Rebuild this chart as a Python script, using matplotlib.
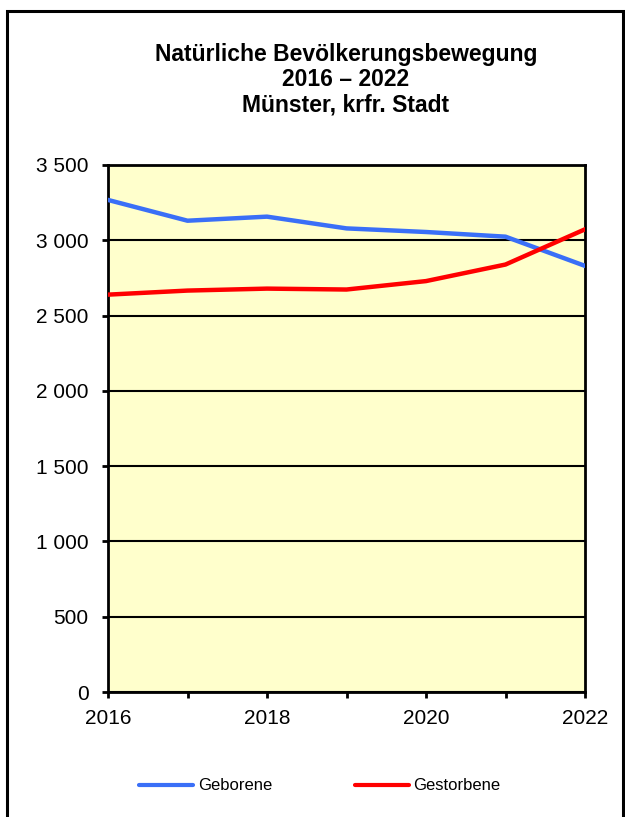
import matplotlib.pyplot as plt
from matplotlib.lines import Line2D
from matplotlib.patches import Rectangle
from matplotlib.ticker import FuncFormatter, MultipleLocator

plt.rcParams["font.family"] = ["Liberation Sans", "DejaVu Sans"]

YEARS = [2016, 2017, 2018, 2019, 2020, 2021, 2022]
GEBORENE = [3268, 3130, 3157, 3079, 3055, 3024, 2830]
GESTORBENE = [2639, 2666, 2679, 2673, 2729, 2839, 3073]
TITLE = "Natürliche Bevölkerungsbewegung\n2016 – 2022\nMünster, krfr. Stadt"

BLUE = "#3a6ff7"
RED = "#ff0000"

fig = plt.figure(figsize=(6.25, 8.17), dpi=100)
fig.patch.set_facecolor("white")

# outer frame (bottom edge runs off the picture)
fig.patches.append(Rectangle((7 / 625, -0.05), 616 / 625, 1 - 11 / 817 + 0.05,
                             transform=fig.transFigure, fill=False,
                             edgecolor="black", linewidth=2.2, clip_on=False))

ax = fig.add_axes([108 / 625, 1 - 692 / 817, 477 / 625, 527 / 817])
ax.set_facecolor("#ffffcc")

ax.plot(YEARS, GEBORENE, color=BLUE, linewidth=3.2, label="Geborene", zorder=3)
ax.plot(YEARS, GESTORBENE, color=RED, linewidth=3.2, label="Gestorbene", zorder=3)

ax.set_xlim(YEARS[0], YEARS[-1])
ax.set_ylim(0, 3500)
ax.xaxis.set_major_locator(MultipleLocator(2))
ax.xaxis.set_minor_locator(MultipleLocator(1))
ax.yaxis.set_major_locator(MultipleLocator(500))
ax.yaxis.set_major_formatter(FuncFormatter(lambda v, _: f"{int(v):,}".replace(",", " ")))
ax.grid(axis="y", color="black", linewidth=1.5, zorder=1)
ax.set_axisbelow(True)

for s in ax.spines.values():
    s.set_linewidth(2)
ax.tick_params(axis="both", which="both", direction="out", width=2, colors="black", labelsize=15)
ax.tick_params(axis="x", which="both", length=4.5, pad=8)
ax.tick_params(axis="y", length=4, pad=10)

fig.text(346 / 625, 1 - 80 / 817, TITLE, ha="center", va="center",
         fontsize=16.5, fontweight="bold", linespacing=1.12)

handles = [Line2D([], [], color=BLUE, linewidth=3, solid_capstyle="round"),
           Line2D([], [], color=RED, linewidth=3, solid_capstyle="round")]
fig.legend(handles, ["Geborene", "Gestorbene"], loc="center",
           bbox_to_anchor=(320 / 625, 1 - 786 / 817), ncol=2, frameon=False,
           fontsize=12, handlelength=3.25, handletextpad=0.25, columnspacing=5.0)

fig.savefig("out.png", dpi=100, facecolor="white")
